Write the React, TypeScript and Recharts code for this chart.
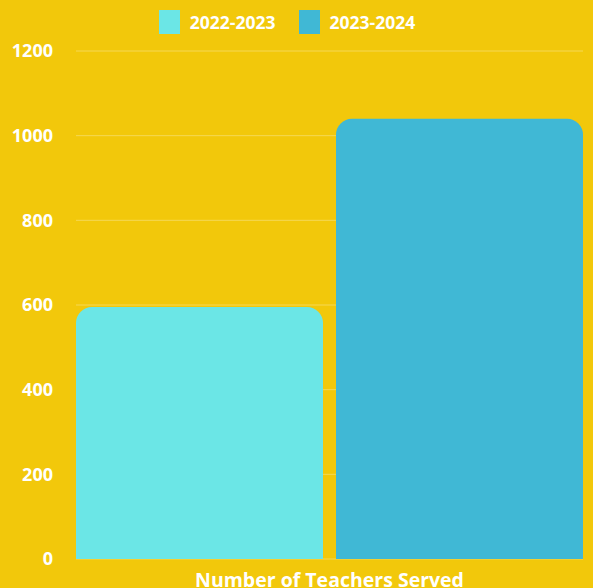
import { BarChart, Bar, XAxis, YAxis, CartesianGrid, Legend } from "recharts";

const category = "Number of Teachers Served";
const series2022 = [595];
const series2024 = [1040];
const yTicks = [0, 200, 400, 600, 800, 1000, 1200];

const data = [{ name: category, y2022: series2022[0], y2024: series2024[0] }];

const font = "'Open Sans', sans-serif";

const LegendContent = () => (
  <div style={{ display: "flex", justifyContent: "center", fontFamily: font, fontWeight: 700, fontSize: 17.5, color: "#fff", height: 24 }}>
    {[
      { label: "2022-2023", color: "#6BE6E6" },
      { label: "2023-2024", color: "#40B8D5" },
    ].map((it) => (
      <div key={it.label} style={{ display: "flex", alignItems: "center", margin: "0 11.5px" }}>
        <span style={{ width: 21, height: 24, background: it.color, display: "inline-block", marginRight: 10 }} />
        <span>{it.label}</span>
      </div>
    ))}
  </div>
);

const App = () => (
  <div style={{ position: "absolute", left: 0, top: 0, width: 593, height: 588, background: "#F2C80B", overflow: "hidden" }}>
    <BarChart
      width={593}
      height={588}
      data={data}
      margin={{ top: 27, right: 10, left: 0, bottom: 0 }}
      barCategoryGap={0}
      barGap={13}
    >
      <CartesianGrid vertical={false} stroke="#F5D856" strokeWidth={1} />
      <Legend verticalAlign="top" content={LegendContent} wrapperStyle={{ top: 10, left: 0, width: 574 }} />
      <XAxis
        dataKey="name"
        height={29}
        tick={false}
        axisLine={false}
        tickLine={false}
        label={{ value: category, position: "insideBottom", offset: 1, fill: "#fff", fontFamily: font, fontWeight: 700, fontSize: 19.5 }}
      />
      <YAxis
        width={76}
        domain={[0, 1200]}
        ticks={yTicks}
        axisLine={false}
        tickLine={false}
        tickSize={0}
        tickMargin={23}
        tick={{ fill: "#fff", fontFamily: font, fontWeight: 700, fontSize: 18 }}
      />
      <Bar dataKey="y2022" fill="#6BE6E6" radius={[16, 16, 0, 0]} isAnimationActive={false} />
      <Bar dataKey="y2024" fill="#40B8D5" radius={[16, 16, 0, 0]} isAnimationActive={false} />
    </BarChart>
  </div>
);

export default App;
